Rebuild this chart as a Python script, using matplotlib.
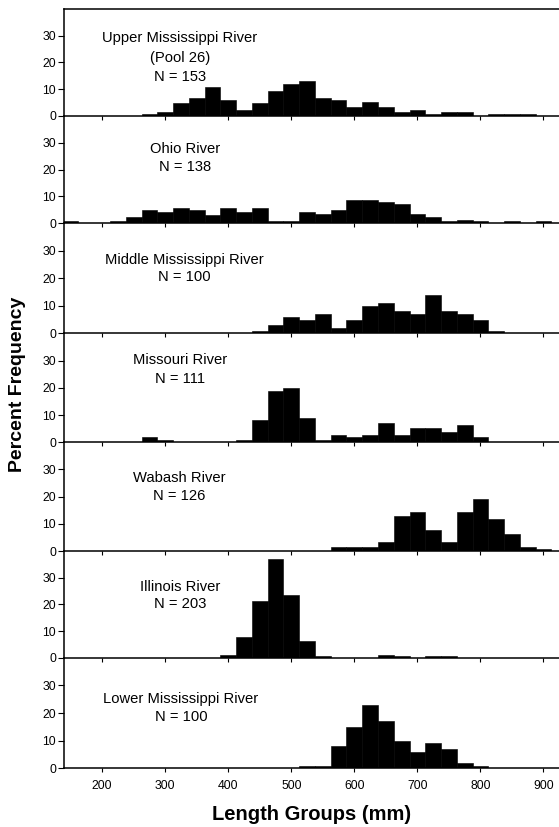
import matplotlib
matplotlib.use("Agg")
import matplotlib.pyplot as plt

plt.rcParams['font.family'] = ['Liberation Sans', 'DejaVu Sans']

# Length group centres (mm), 25-mm groups
length_groups = list(range(150, 925, 25))

# Percent frequency per length group (150 ... 900 mm)
upper_miss = [0, 0, 0, 0, 0, 0.65, 1.3, 4.6, 6.5, 10.8, 5.9, 2.0, 4.6, 9.2, 11.8, 13.1,
              6.5, 5.9, 3.3, 5.2, 3.3, 1.3, 2.0, 0.65, 1.3, 1.3, 0, 0.65, 0.65, 0.65, 0]
ohio = [0.7, 0, 0, 0.7, 2.2, 5.1, 4.3, 5.8, 5.1, 2.9, 5.8, 4.3, 5.8, 0.7, 0.7, 4.3,
        3.6, 5.1, 8.7, 8.7, 8.0, 7.2, 3.6, 2.2, 0.7, 1.4, 0.7, 0, 0.7, 0, 0.7]
middle_miss = [0, 0, 0, 0, 0, 0, 0, 0, 0, 0, 0, 0, 1, 3, 6, 5,
               7, 2, 5, 10, 11, 8, 7, 14, 8, 7, 5, 1, 0, 0, 0]
missouri = [0, 0, 0, 0, 0, 1.8, 0.9, 0, 0, 0, 0, 0.9, 8.1, 18.9, 19.8, 9.0,
            0.9, 2.7, 1.8, 2.7, 7.2, 2.7, 5.4, 5.4, 3.6, 6.3, 1.8, 0, 0, 0, 0]
wabash = [0, 0, 0, 0, 0, 0, 0, 0, 0, 0, 0, 0, 0, 0, 0, 0,
          0, 1.6, 1.6, 1.6, 3.2, 12.7, 14.3, 7.9, 3.2, 14.3, 19.0, 11.9, 6.3, 1.6, 0.8]
illinois = [0, 0, 0, 0, 0, 0, 0, 0, 0, 0, 1.0, 7.9, 21.2, 36.9, 23.6, 6.4,
            0.5, 0, 0, 0, 1.0, 0.5, 0, 0.5, 0.5, 0, 0, 0, 0, 0, 0]
lower_miss = [0, 0, 0, 0, 0, 0, 0, 0, 0, 0, 0, 0, 0, 0, 0, 1,
              1, 8, 15, 23, 17, 10, 6, 9, 7, 2, 1, 0, 0, 0, 0]

series = [upper_miss, ohio, middle_miss, missouri, wabash, illinois, lower_miss]
river_labels = [
    ["Upper Mississippi River", "(Pool 26)", "N = 153"],
    ["Ohio River", "N = 138"],
    ["Middle Mississippi River", "N = 100"],
    ["Missouri River", "N = 111"],
    ["Wabash River", "N = 126"],
    ["Illinois River", "N = 203"],
    ["Lower Mississippi River", "N = 100"],
]
x_ticks = [200, 300, 400, 500, 600, 700, 800, 900]
y_ticks = [0, 10, 20, 30]

# label placement (data coords) per panel: x centre, y of each line
label_x = [323, 331, 330, 323, 323, 324, 325]
label_y = [[29.0, 21.5, 14.6], [27.8, 20.8], [26.6, 20.4], [30.2, 23.4],
           [26.9, 20.3], [26.6, 20.0], [25.0, 18.4]]

W, H = 559, 827
fig = plt.figure(figsize=(W / 100, H / 100), dpi=100)

tops = [9, 115.7, 223.3, 333.3, 442.3, 551, 657.7]
bottoms = [115.7, 223.3, 333.3, 442.3, 551, 657.7, 768.3]
left_px = 64.3

for i, vals in enumerate(series):
    ax = fig.add_axes([left_px / W, 1 - bottoms[i] / H, 1 - left_px / W,
                       (bottoms[i] - tops[i]) / H])
    ax.patch.set_visible(False)
    ax.set_zorder(10 - i)
    ax.bar(length_groups, vals, width=25, color='black', edgecolor='black',
           linewidth=0.4, align='center')
    ax.set_xlim(140, 924.6)
    ax.set_ylim(0, 40)
    ax.set_yticks(y_ticks)
    ax.set_xticks(x_ticks)
    ax.spines['right'].set_visible(False)
    ax.spines['top'].set_visible(i == 0)
    for s in ['left', 'bottom', 'top']:
        ax.spines[s].set_linewidth(1.1)
        ax.spines[s].set_color('black')
    ax.tick_params(axis='y', direction='out', length=4, width=0.8, pad=2,
                   labelsize=8.8)
    ax.tick_params(axis='x', direction='out', length=3, width=0.8, pad=5.5,
                   labelsize=8.8, labelbottom=(i == len(series) - 1))
    for txt, yy in zip(river_labels[i], label_y[i]):
        ax.text(label_x[i], yy, txt, ha='center', va='center', fontsize=10.6)

fig.text(18 / W, 1 - 384 / H, "Percent Frequency", rotation=90, ha='center',
         va='center', fontsize=14, fontweight='bold')
fig.text(312 / W, 1 - 815 / H, "Length Groups (mm)", ha='center', va='center',
         fontsize=14.5, fontweight='bold')

fig.savefig("out.png", dpi=100)
